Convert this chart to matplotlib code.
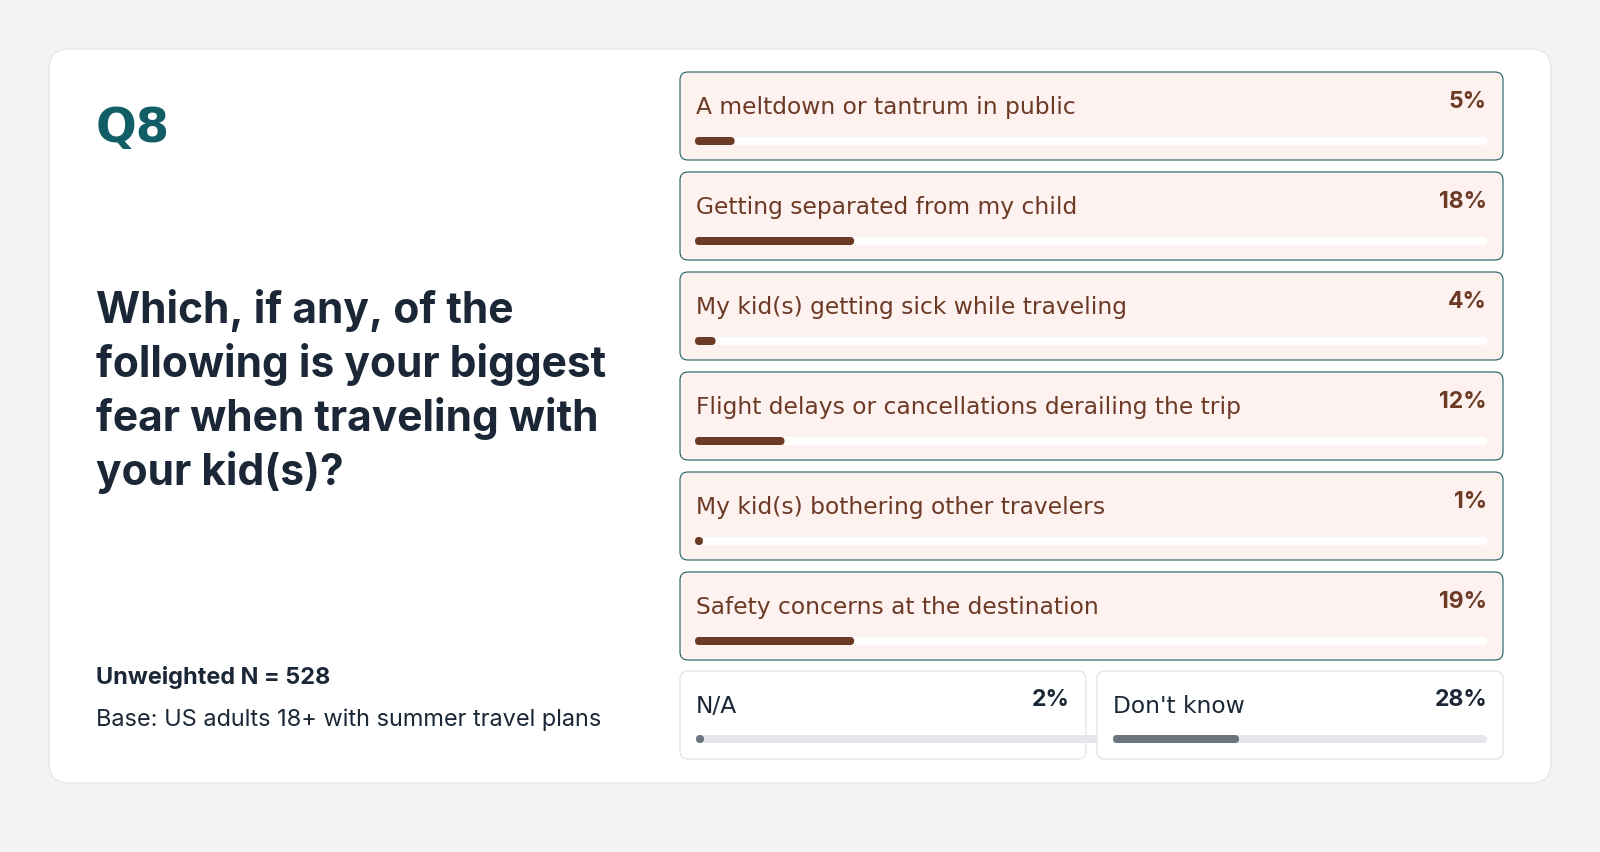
import matplotlib
matplotlib.use("Agg")
import matplotlib.pyplot as plt
from matplotlib.patches import FancyBboxPatch

# ---------------------------------------------------------------------------
# Data
# ---------------------------------------------------------------------------

question_id = "Q8"
question_lines = ["Which, if any, of the",
                  "following is your biggest",
                  "fear when traveling with",
                  "your kid(s)?"]
sample_note = "Unweighted N = 528"
base_note = "Base: US adults 18+ with summer travel plans"

answers = ["A meltdown or tantrum in public",
           "Getting separated from my child",
           "My kid(s) getting sick while traveling",
           "Flight delays or cancellations derailing the trip",
           "My kid(s) bothering other travelers",
           "Safety concerns at the destination"]
answer_pct = [5, 18, 4, 12, 1, 19]
# bar fill as drawn in the reference (share of the track, %)
answer_fill = [5.0, 20.1, 2.6, 11.3, 0.0, 20.1]

other_answers = ["N/A", "Don't know"]
other_pct = [2, 28]
other_fill = [0.0, 33.7]

# ---------------------------------------------------------------------------
# Style
# ---------------------------------------------------------------------------

BG = "#f4f4f6"
CARD_EDGE = "#e4e6ea"
PINK = "#fdf2ef"
TEAL_EDGE = "#1e5e62"
BROWN = "#6d3a25"
NAVY = "#1b2736"
TEAL = "#115e67"
GREY_TRACK = "#e5e7eb"
GREY_BAR = "#6b7580"
GREY_EDGE = "#e1e3e6"

LABEL_FONT = ["DejaVu Sans"]
NUM_FONT = ["Inter", "DejaVu Sans"]
PX = 0.72  # points per pixel at dpi 100

fig = plt.figure(figsize=(16, 8.52), dpi=100)
fig.patch.set_facecolor(BG)
ax = fig.add_axes([0, 0, 1, 1])
ax.set_xlim(0, 1600)
ax.set_ylim(852, 0)
ax.axis("off")


def rbox(x, y, w, h, r, fc, ec="none", lw=0, z=1):
    p = FancyBboxPatch((x, y), w, h, boxstyle=f"round,pad=0,rounding_size={r}",
                       fc=fc, ec=ec, lw=lw, zorder=z)
    ax.add_patch(p)


def bar(x, y, width, fill, color, track_color, z=3):
    # track and bar with fully rounded ends, 8px thick
    if track_color is not None:
        rbox(x, y - 4, width, 8, 4, track_color, z=z)
    w = max(8, width * fill / 100)
    rbox(x, y - 4, w, 8, 4, color, z=z + 0.1)


# card
rbox(49, 49, 1502, 734, 20, "white", CARD_EDGE, 1.0, z=0)

# left column
ax.text(96, 142, question_id, fontsize=48 * PX, fontweight="bold", color=TEAL,
        family=LABEL_FONT, va="baseline")
for i, line in enumerate(question_lines):
    ax.text(96, 323 + 54 * i, line, fontsize=42.5 * PX, fontweight="bold",
            color=NAVY, family=NUM_FONT, va="baseline")
ax.text(96, 684, sample_note, fontsize=23.5 * PX, fontweight="bold", color=NAVY,
        family=NUM_FONT, va="baseline")
ax.text(96, 726, base_note, fontsize=23.5 * PX, color=NAVY,
        family=NUM_FONT, va="baseline")

# answer boxes
bx, bw, bh = 680, 823, 88
tx, tw = 695, 792
for i, (lab, pct, fill) in enumerate(zip(answers, answer_pct, answer_fill)):
    top = 72 + 100 * i
    rbox(bx, top, bw, bh, 8, PINK, TEAL_EDGE, 0.8, z=1)
    ax.text(696, top + 42, lab, fontsize=23.4 * PX, color=BROWN,
            family=LABEL_FONT, va="baseline", zorder=4)
    ax.text(1487, top + 36, f"{pct}%", fontsize=23 * PX, fontweight="bold",
            color=BROWN, family=NUM_FONT, va="baseline", ha="right", zorder=4)
    bar(tx, top + 69, tw, fill, BROWN, "white")

# N/A and Don't know
top = 671
other_x = [680, 1097]
other_w = 406
for j, (lab, pct, fill) in enumerate(zip(other_answers, other_pct, other_fill)):
    x0 = other_x[j]
    z = 1 + 5 * j
    rbox(x0, top, other_w, bh, 8, "white", GREY_EDGE, 0.9, z=z)
    ax.text(x0 + 16, top + 42, lab, fontsize=23.4 * PX, color=NAVY,
            family=LABEL_FONT, va="baseline", zorder=z + 3)
    ax.text(x0 + other_w - 16, top + 35, f"{pct}%", fontsize=23 * PX,
            fontweight="bold", color=NAVY, family=NUM_FONT, va="baseline",
            ha="right", zorder=z + 3)
    # the N/A track runs on under the neighbouring card, as in the reference
    track_w = 792 if j == 0 else 374
    bar(x0 + 16, top + 68, track_w, fill, GREY_BAR, GREY_TRACK, z=z + 1)

fig.savefig("out.png", dpi=100, facecolor=BG)
